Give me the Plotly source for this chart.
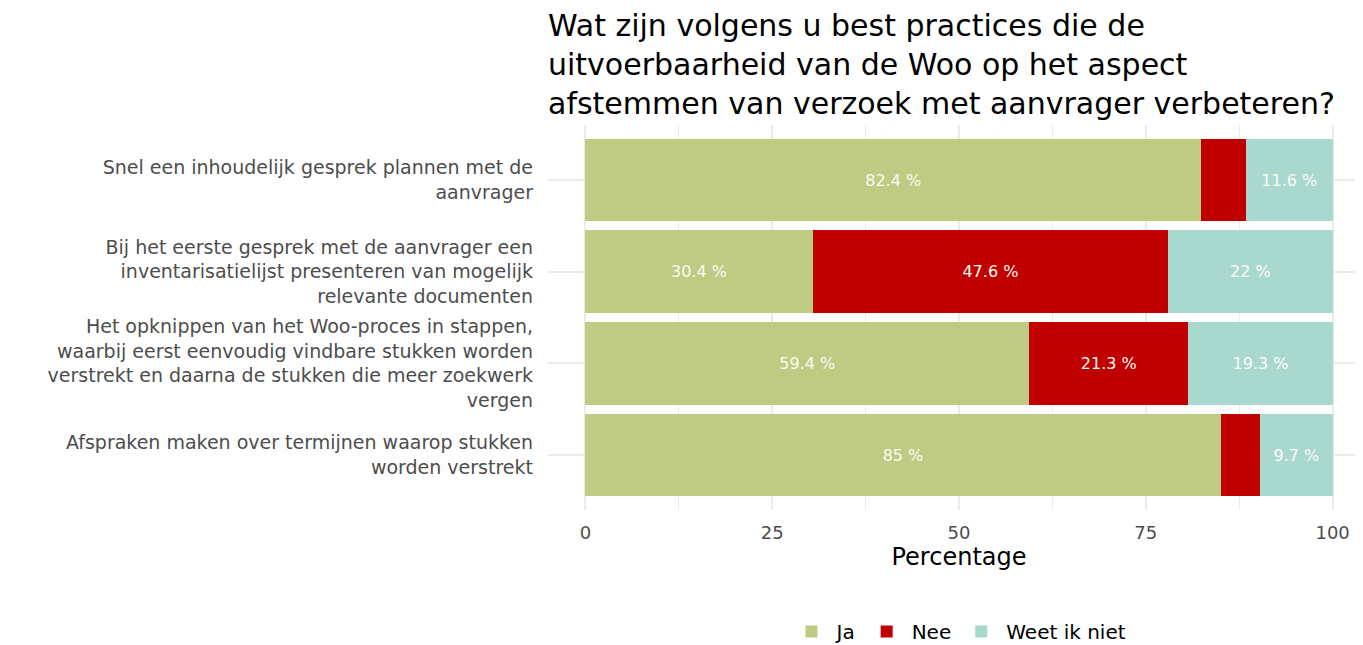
import plotly.graph_objects as go

categories = [
    "Snel een inhoudelijk gesprek plannen met de<br>aanvrager",
    "Bij het eerste gesprek met de aanvrager een<br>inventarisatielijst presenteren van mogelijk<br>relevante documenten",
    "Het opknippen van het Woo-proces in stappen,<br>waarbij eerst eenvoudig vindbare stukken worden<br>verstrekt en daarna de stukken die meer zoekwerk<br>vergen",
    "Afspraken maken over termijnen waarop stukken<br>worden verstrekt",
]
ja = [82.4, 30.4, 59.4, 85.0]
nee = [6.0, 47.6, 21.3, 5.3]
weet_niet = [11.6, 22.0, 19.3, 9.7]
x_ticks = [0, 25, 50, 75, 100]

series = [("Ja", ja, "#BFCB82"), ("Nee", nee, "#C00000"), ("Weet ik niet", weet_niet, "#A9D8CF")]

FONT = "DejaVu Sans, Liberation Sans, Arial, sans-serif"

def fmt(v):
    s = ("%.1f" % v).rstrip("0").rstrip(".")
    return s + " %"

fig = go.Figure()
for name, vals, col in series:
    fig.add_trace(go.Bar(
        name=name, y=categories, x=vals, orientation="h",
        marker=dict(color=col, line=dict(width=0)),
        text=[fmt(v) if v >= 9 else "" for v in vals],
        textposition="inside", insidetextanchor="middle", textangle=0,
        textfont=dict(color="#fbfbf5", size=16, family=FONT),
        constraintext="none", width=0.9,
    ))

fig.update_layout(
    barmode="stack",
    width=1363, height=645,
    margin=dict(l=540, r=1, t=117, b=143),
    paper_bgcolor="white", plot_bgcolor="white",
    font=dict(family=FONT, color="#4d4d4d", size=18),
    title=dict(
        text="Wat zijn volgens u best practices die de<br>uitvoerbaarheid van de Woo op het aspect<br>afstemmen van verzoek met aanvrager verbeteren?",
        x=0, xref="paper", xanchor="left",
        y=0.957, yref="container", yanchor="top",
        font=dict(size=30, color="black", family=FONT),
    ),
    legend=dict(
        orientation="h", x=0.5, xanchor="center", y=-0.265, yanchor="top",
        font=dict(size=20, color="black", family=FONT),
        traceorder="normal", itemwidth=40,
    ),
)
fig.update_xaxes(
    range=[-5, 105], tickvals=x_ticks,
    showgrid=True, gridcolor="#ebebeb", gridwidth=2,
    minor=dict(tickvals=[12.5, 37.5, 62.5, 87.5], showgrid=True, gridcolor="#ebebeb", gridwidth=1),
    zeroline=False, showline=False, ticks="", ticklabelstandoff=10,
    tickfont=dict(size=18, color="#4d4d4d"),
    title=dict(text="Percentage", font=dict(size=24, color="black"), standoff=6),
)
fig.update_yaxes(
    range=[3.6, -0.6], showgrid=True, gridcolor="#ebebeb", gridwidth=2,
    zeroline=False, showline=False, ticks="", ticklabelstandoff=14,
    tickfont=dict(size=19, color="#4d4d4d"),
)

fig.write_html("out.html")
